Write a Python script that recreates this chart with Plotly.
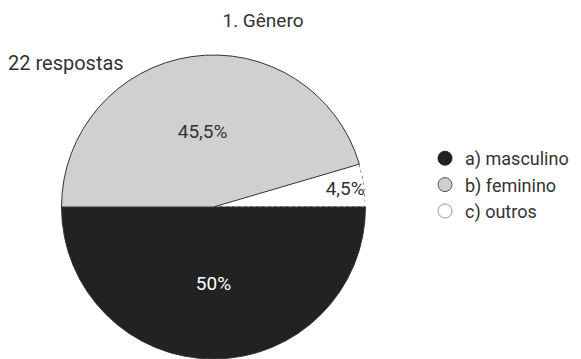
import plotly.graph_objects as go

# ---- data ----
title_text = "1. Gênero"
responses_label = "22 respostas"
categories = ["a) masculino", "b) feminino", "c) outros"]
counts = [11, 10, 1]
slice_colors = ["#222222", "#d0d0d0", "rgba(255,255,255,0)"]
legend_fill = ["#222222", "#d0d0d0", "#ffffff"]
legend_line = ["#222222", "#555555", "#999999"]

total = sum(counts)


def fmt_pct(v):
    s = f"{v / total * 100:.1f}".rstrip("0").rstrip(".")
    return s.replace(".", ",") + "%"


pct_text = [fmt_pct(v) for v in counts]

W, H = 581, 359
dom_x = [61.5 / W, 365.5 / W]
dom_y = [0.0, 304 / H]
FONT = "Roboto, Inter, sans-serif"
FS = 19

fig = go.Figure()

fig.add_trace(go.Pie(
    labels=categories,
    values=counts,
    text=pct_text,
    textinfo="text",
    textposition="inside",
    insidetextorientation="horizontal",
    sort=False,
    direction="clockwise",
    rotation=90,
    marker=dict(colors=slice_colors, line=dict(color="#333333", width=[1, 1, 0])),
    textfont=dict(family=FONT, size=FS, color=["#ffffff", "#333333", "#333333"]),
    domain=dict(x=dom_x, y=dom_y),
    showlegend=False,
    hoverinfo="label+percent",
))

# dotted outline of the smallest slice, from the cumulative shares
start_frac = sum(counts[:-1]) / total
n = 30
arc_theta = [360 * (start_frac + (1 - start_frac) * i / n) for i in range(n + 1)]
fig.add_trace(go.Scatterpolar(
    r=[1] * (n + 1) + [0],
    theta=arc_theta + [arc_theta[-1]],
    mode="lines",
    line=dict(color="#333333", width=1.2, dash="dot"),
    showlegend=False,
    hoverinfo="skip",
))

# legend entries with circular markers
for name, fc, lc in zip(categories, legend_fill, legend_line):
    fig.add_trace(go.Scatterpolar(
        r=[None], theta=[None], mode="markers", name=name,
        marker=dict(symbol="circle", size=14, color=fc, line=dict(color=lc, width=1)),
    ))

fig.update_layout(
    width=W, height=H,
    margin=dict(l=0, r=0, t=0, b=0),
    paper_bgcolor="white",
    plot_bgcolor="white",
    font=dict(family=FONT, size=FS, color="#333333"),
    separators=",.",
    title=dict(text=title_text, x=263 / W, xanchor="center", y=(H - 20) / H,
               yanchor="middle", font=dict(family=FONT, size=FS, color="#333333")),
    polar=dict(
        domain=dict(x=dom_x, y=dom_y),
        bgcolor="rgba(0,0,0,0)",
        radialaxis=dict(range=[0, 1], visible=False),
        angularaxis=dict(visible=False, direction="clockwise", rotation=0),
    ),
    legend=dict(x=425 / W, xanchor="left", y=(H - 185) / H, yanchor="middle",
                font=dict(family=FONT, size=FS - 1, color="#333333"),
                itemsizing="trace", itemwidth=30, bgcolor="rgba(0,0,0,0)", tracegroupgap=0),
    uniformtext=dict(minsize=FS, mode="show"),
    annotations=[dict(text=responses_label, x=6 / W, y=(H - 63) / H, xref="paper", yref="paper",
                      xanchor="left", yanchor="middle", showarrow=False,
                      font=dict(family=FONT, size=FS + 1, color="#333333"))],
)

fig.write_html("out.html")
